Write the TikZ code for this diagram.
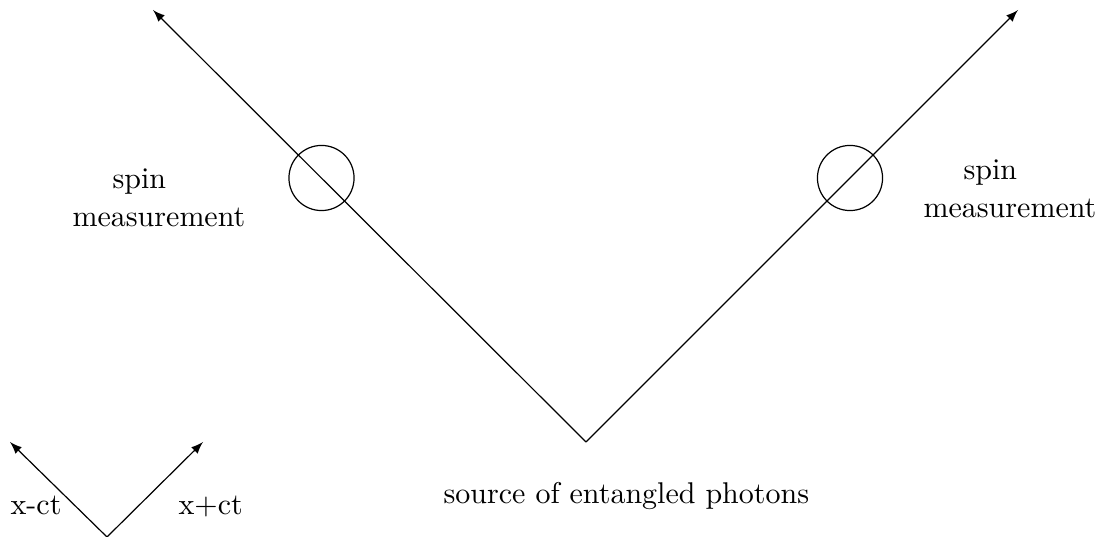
\documentclass[tikz,border=0pt]{standalone}
\begin{document}
\begin{tikzpicture}[x=0.3333pt,y=-0.3333pt,
  lbl/.style={inner sep=0pt, anchor=base west},
  ray/.style={-latex, line width=0.4pt},
  detector/.style={draw, circle, minimum size=21.7pt, inner sep=0pt}]
\useasboundingbox (0,0) rectangle (1101,537);
% main light cone
\coordinate (src) at (586,442);
\coordinate (lt) at (153,10);
\coordinate (rt) at (1018,10);
\draw[ray] (src) -- (lt);
\draw[ray] (src) -- (rt);
\node[detector] (dl) at (321.5,178) {};
\node[detector] (dr) at (850,178) {};
% labels
\node[lbl] (spinl) at (112,189) {spin};
\node[lbl] (measl) at (72,227) {measurement};
\node[lbl] (spinr) at (963,180) {spin};
\node[lbl] (measr) at (923,218) {measurement};
\node[lbl] (source) at (443,503) {source of entangled photons};
% small axes
\coordinate (o) at (107,537);
\coordinate (ax1) at (10,442);
\coordinate (ax2) at (203,442);
\draw[ray] (o) -- (ax1);
\draw[ray] (o) -- (ax2);
\node[lbl] (xm) at (10,515) {x-ct};
\node[lbl] (xp) at (178,515) {x+ct};
\end{tikzpicture}
\end{document}
